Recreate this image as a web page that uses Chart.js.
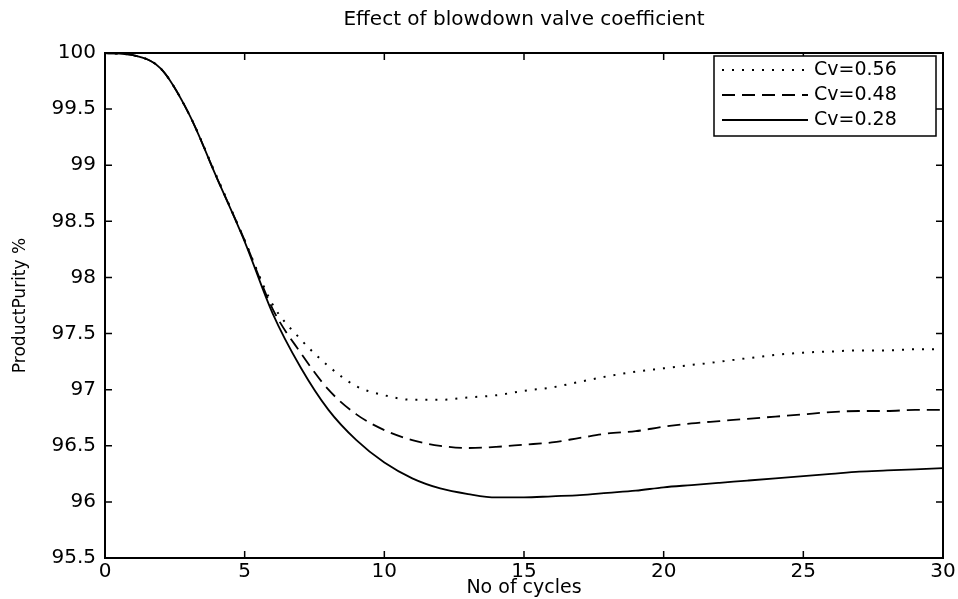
<!DOCTYPE html>
<html>
<head>
<meta charset="utf-8">
<script src="https://cdn.jsdelivr.net/npm/chart.js@4.4.1/dist/chart.umd.min.js"></script>
<style>
  html, body { margin: 0; padding: 0; background: #fff; }
  #box { width: 958px; height: 599px; }
</style>
</head>
<body>
<div id="box"><canvas id="purityChart"></canvas></div>
<script>
// values
var cycles = [0, 1, 2, 3, 4, 5, 6, 7, 8, 9, 10, 11, 12, 13, 14, 15, 16, 17, 18, 19, 20, 21, 22, 23, 24, 25, 26, 27, 28, 29, 30];
var cv056 = [100, 99.98, 99.86, 99.46, 98.90, 98.33, 97.76, 97.45, 97.21, 97.03, 96.95, 96.91, 96.91, 96.93, 96.95, 96.99, 97.02, 97.07, 97.12, 97.16, 97.19, 97.22, 97.25, 97.28, 97.31, 97.33, 97.34, 97.35, 97.35, 97.36, 97.36];
var cv048 = [100, 99.98, 99.86, 99.46, 98.89, 98.33, 97.72, 97.33, 97.00, 96.78, 96.64, 96.55, 96.50, 96.48, 96.49, 96.51, 96.53, 96.57, 96.61, 96.63, 96.67, 96.70, 96.72, 96.74, 96.76, 96.78, 96.80, 96.81, 96.81, 96.82, 96.82];
var cv028 = [100, 99.98, 99.86, 99.46, 98.89, 98.32, 97.68, 97.20, 96.82, 96.55, 96.35, 96.21, 96.12, 96.07, 96.04, 96.04, 96.05, 96.06, 96.08, 96.10, 96.13, 96.15, 96.17, 96.19, 96.21, 96.23, 96.25, 96.27, 96.28, 96.29, 96.30];
var seriesLabels = ["Cv=0.56", "Cv=0.48", "Cv=0.28"];
var xTicks = [0, 5, 10, 15, 20, 25, 30];
var yTicks = [95.5, 96, 96.5, 97, 97.5, 98, 98.5, 99, 99.5, 100];
var chartTitle = "Effect of blowdown valve coefficient";

var fontName = "'DejaVu Sans', 'Liberation Sans', sans-serif";

function toPoints(ys) {
  return cycles.map(function (c, i) { return { x: c, y: ys[i] }; });
}

// matlab style box: frame, inward ticks on all four sides, title over the axes, legend inside
var boxPlugin = {
  id: "boxPlugin",
  afterDatasetsDraw: function (chart) {
    var ctx = chart.ctx;
    var a = chart.chartArea;
    var xs = chart.scales.x;
    var ys = chart.scales.y;
    ctx.save();
    ctx.strokeStyle = "#000";
    ctx.lineWidth = 2;
    ctx.setLineDash([]);
    ctx.strokeRect(a.left, a.top, a.right - a.left, a.bottom - a.top);

    ctx.lineWidth = 1.5;
    ctx.beginPath();
    xTicks.forEach(function (v) {
      var p = xs.getPixelForValue(v);
      ctx.moveTo(p, a.bottom); ctx.lineTo(p, a.bottom - 7);
      ctx.moveTo(p, a.top); ctx.lineTo(p, a.top + 7);
    });
    yTicks.forEach(function (v) {
      var p = ys.getPixelForValue(v);
      ctx.moveTo(a.left, p); ctx.lineTo(a.left + 7, p);
      ctx.moveTo(a.right, p); ctx.lineTo(a.right - 7, p);
    });
    ctx.stroke();

    // title, centred on the axes like matlab does
    ctx.fillStyle = "#000";
    ctx.font = "20px " + fontName;
    ctx.textAlign = "center";
    ctx.textBaseline = "middle";
    ctx.fillText(chartTitle, (a.left + a.right) / 2, 20);

    // legend
    var bx = 714, by = 56, bw = 222, bh = 80;
    ctx.fillStyle = "#fff";
    ctx.fillRect(bx, by, bw, bh);
    ctx.lineWidth = 1.5;
    ctx.strokeRect(bx, by, bw, bh);
    ctx.font = "19px " + fontName;
    ctx.textAlign = "left";
    chart.data.datasets.forEach(function (ds, i) {
      var ly = by + 14 + i * 25;
      ctx.strokeStyle = ds.borderColor;
      ctx.lineWidth = ds.borderWidth;
      ctx.setLineDash(ds.borderDash || []);
      ctx.beginPath();
      ctx.moveTo(bx + 8, ly);
      ctx.lineTo(bx + 94, ly);
      ctx.stroke();
      ctx.setLineDash([]);
      ctx.fillStyle = "#000";
      ctx.fillText(ds.label, bx + 100, ly);
    });
    ctx.restore();
  }
};

var purityChart = new Chart(document.getElementById("purityChart"), {
  type: "line",
  data: {
    datasets: [{
      label: seriesLabels[0],
      data: toPoints(cv056),
      borderColor: "#000",
      borderWidth: 2,
      borderDash: [2, 8],
      pointRadius: 0,
      fill: false,
      cubicInterpolationMode: "monotone"
    }, {
      label: seriesLabels[1],
      data: toPoints(cv048),
      borderColor: "#000",
      borderWidth: 1.8,
      borderDash: [13, 7],
      pointRadius: 0,
      fill: false,
      cubicInterpolationMode: "monotone"
    }, {
      label: seriesLabels[2],
      data: toPoints(cv028),
      borderColor: "#000",
      borderWidth: 1.8,
      pointRadius: 0,
      fill: false,
      cubicInterpolationMode: "monotone"
    }]
  },
  options: {
    responsive: true,
    maintainAspectRatio: false,
    animation: false,
    events: [],
    layout: { padding: { left: 0, right: 15, top: 53, bottom: 0 } },
    plugins: {
      legend: { display: false },
      tooltip: { enabled: false },
      title: { display: false }
    },
    scales: {
      x: {
        type: "linear",
        min: 0,
        max: 30,
        afterFit: function (scale) { scale.height = 41; },
        afterBuildTicks: function (scale) {
          scale.ticks = xTicks.map(function (v) { return { value: v }; });
        },
        grid: { display: false, drawTicks: false },
        border: { display: false },
        ticks: {
          color: "#000",
          padding: 2,
          autoSkip: false,
          maxRotation: 0,
          font: { family: fontName, size: 20 }
        },
        title: {
          display: true,
          text: "No of cycles",
          color: "#000",
          font: { family: fontName, size: 19 },
          padding: { top: 0, bottom: 0 }
        }
      },
      y: {
        type: "linear",
        min: 95.5,
        max: 100,
        afterFit: function (scale) { scale.width = 105; },
        afterBuildTicks: function (scale) {
          scale.ticks = yTicks.map(function (v) { return { value: v }; });
        },
        grid: { display: false, drawTicks: false },
        border: { display: false },
        ticks: {
          color: "#000",
          padding: 9,
          autoSkip: false,
          font: { family: fontName, size: 20 },
          callback: function (v) { return String(v); }
        },
        title: {
          display: true,
          text: "ProductPurity %",
          color: "#000",
          font: { family: fontName, size: 17 },
          padding: { top: 10, bottom: 0 }
        }
      }
    }
  },
  plugins: [boxPlugin]
});
</script>
</body>
</html>
